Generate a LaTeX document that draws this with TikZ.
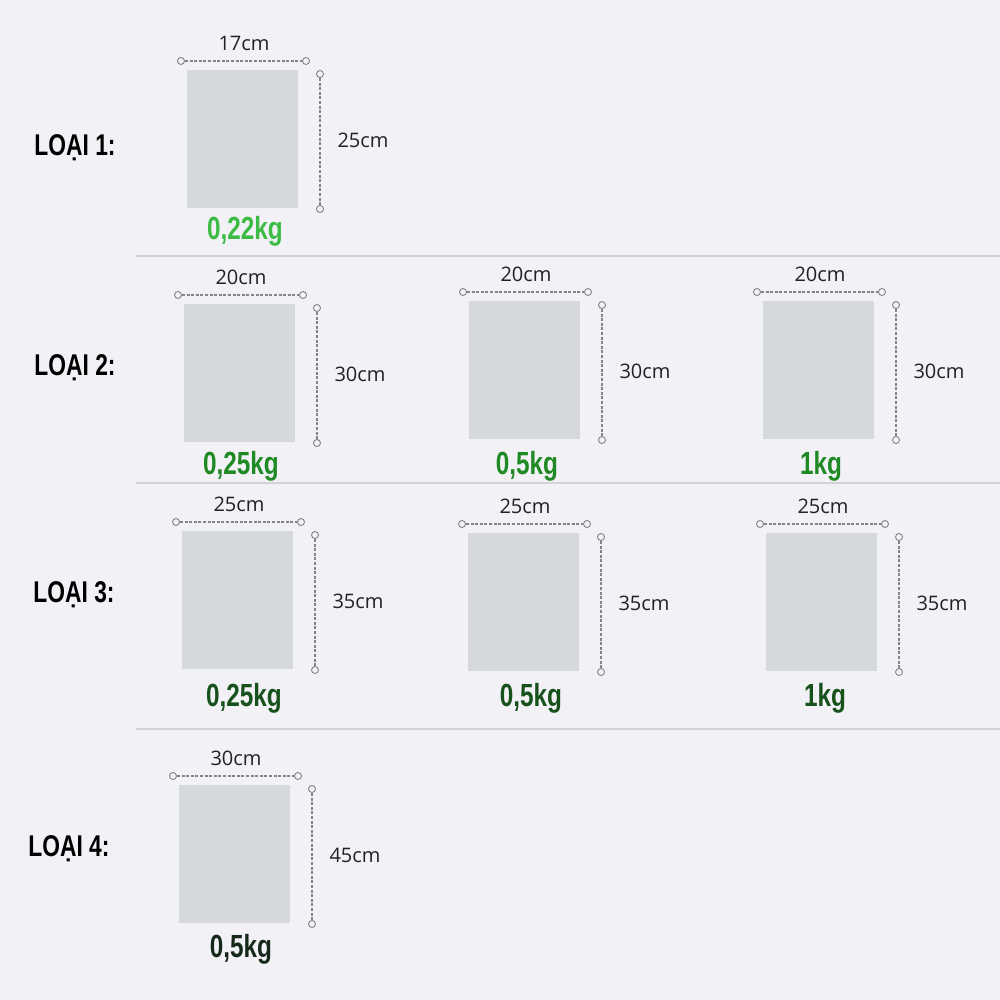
\documentclass[tikz,border=0pt]{standalone}
\usepackage{fontspec}
\setmainfont{Open Sans}
\newfontfamily\condfont[FakeStretch=0.76]{Liberation Sans}
\usetikzlibrary{calc}
\definecolor{bgc}{HTML}{F1F1F6}
\definecolor{bagc}{HTML}{D5D9DC}
\definecolor{sepc}{HTML}{D2D2D8}
\definecolor{dimc}{HTML}{858585}
\definecolor{txtc}{HTML}{222222}
\definecolor{gA}{HTML}{3CBC44}
\definecolor{gB}{HTML}{1F8A24}
\definecolor{gC}{HTML}{17511B}
\definecolor{gD}{HTML}{16281A}
\tikzset{
  bagrect/.style={fill=bagc, draw=none, minimum width=111pt, minimum height=138pt, inner sep=0pt, outer sep=0pt, anchor=north west},
  endpt/.style={circle, draw=dimc, fill=bgc, line width=0.9pt, minimum size=7pt, inner sep=0pt},
  dimline/.style={draw=dimc, line width=1.2pt, dash pattern=on 3pt off 1.6pt},
  dimtext/.style={text=txtc, font=\fontsize{20}{23}\selectfont, inner sep=0pt},
  wtext/.style={font=\condfont\bfseries\fontsize{32}{38}\selectfont, inner sep=0pt},
  rowlbl/.style={text=black, font=\condfont\bfseries\fontsize{30}{36}\selectfont, inner sep=0pt},
  sepline/.style={draw=sepc, line width=2pt}
}
% #1 id, #2 left, #3 top, #4 width label, #5 height label, #6 weight, #7 colour, #8/#9 weight position
\newcommand{\bagitem}[9]{%
  \node[bagrect] (#1r) at (#2,#3) {};
  \node[endpt] (#1a) at ({#2-6},{#3-9}) {};
  \node[endpt] (#1b) at ({#2+119},{#3-9}) {};
  \draw[dimline] (#1a) -- (#1b);
  \node[endpt] (#1c) at ({#2+133},{#3+4}) {};
  \node[endpt] (#1d) at ({#2+133},{#3+139}) {};
  \draw[dimline] (#1c) -- (#1d);
  \node[dimtext] (#1w) at ({#2+57},{#3-27}) {#4};
  \node[dimtext] (#1h) at ({#2+176},{#3+70}) {#5};
  \node[wtext, text=#7] (#1k) at (#8,#9) {#6};
}
\begin{document}
\begin{tikzpicture}[x=1pt,y=-1pt]
\fill[bgc] (0,0) rectangle (1000,1000);
\useasboundingbox (0,0) rectangle (1000,1000);
% separators
\coordinate (s1a) at (136,256); \coordinate (s1b) at (1000,256);
\coordinate (s2a) at (136,483); \coordinate (s2b) at (1000,483);
\coordinate (s3a) at (136,729); \coordinate (s3b) at (1000,729);
\draw[sepline] (s1a) -- (s1b);
\draw[sepline] (s2a) -- (s2b);
\draw[sepline] (s3a) -- (s3b);
% row labels
\node[rowlbl] (l1) at (75,148) {LOẠI 1:};
\node[rowlbl] (l2) at (75,368) {LOẠI 2:};
\node[rowlbl] (l3) at (74,595) {LOẠI 3:};
\node[rowlbl] (l4) at (69,849) {LOẠI 4:};
% row 1
\bagitem{a}{187}{70}{17cm}{25cm}{0,22kg}{gA}{245}{231}
% row 2
\bagitem{b}{184}{304}{20cm}{30cm}{0,25kg}{gB}{241}{466}
\bagitem{c}{469}{301}{20cm}{30cm}{0,5kg}{gB}{527}{466}
\bagitem{d}{763}{301}{20cm}{30cm}{1kg}{gB}{821}{466}
% row 3
\bagitem{e}{182}{531}{25cm}{35cm}{0,25kg}{gC}{244}{698}
\bagitem{f}{468}{533}{25cm}{35cm}{0,5kg}{gC}{531}{698}
\bagitem{g}{766}{533}{25cm}{35cm}{1kg}{gC}{825}{698}
% row 4
\bagitem{h}{179}{785}{30cm}{45cm}{0,5kg}{gD}{241}{949}
\end{tikzpicture}
\end{document}
